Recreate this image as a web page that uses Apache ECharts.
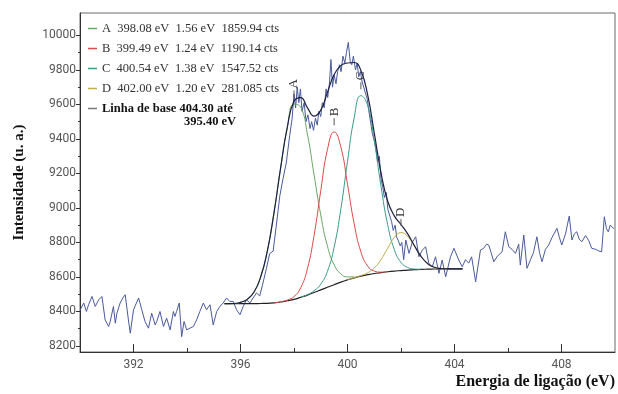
<!DOCTYPE html>
<html>
<head>
<meta charset="utf-8">
<script src="https://cdn.jsdelivr.net/npm/echarts@6/dist/echarts.min.js"></script>
<style>
  html, body { margin: 0; padding: 0; background: #ffffff; }
  #xps { width: 618px; height: 394px; }
</style>
</head>
<body>
<div id="xps"></div>
<script>
// espectro medido (eV, contagens)
const specEv = [390.01, 390.14, 390.24, 390.32, 390.45, 390.57, 390.70, 390.82, 390.94, 391.07, 391.13, 391.25, 391.32, 391.38, 391.50, 391.60, 391.69, 391.81, 391.88, 392.00,
  392.06, 392.19, 392.31, 392.43, 392.56, 392.68, 392.81, 392.87, 392.99, 393.12, 393.24, 393.37, 393.49, 393.55, 393.61, 393.71, 393.80, 393.89, 393.99, 394.11,
  394.24, 394.36, 394.48, 394.61, 394.73, 394.86, 394.98, 395.11, 395.23, 395.35, 395.48, 395.60, 395.73, 395.85, 395.98, 396.10, 396.22, 396.35, 396.47, 396.60,
  396.72, 396.84, 396.97, 397.09, 397.22, 397.34, 397.47, 397.59, 397.71, 397.84, 397.93, 398.00, 398.06, 398.12, 398.18, 398.24, 398.30, 398.38, 398.45, 398.52,
  398.60, 398.66, 398.73, 398.80, 398.87, 398.93, 399.00, 399.06, 399.13, 399.20, 399.26, 399.33, 399.38, 399.44, 399.50, 399.57, 399.63, 399.70, 399.76, 399.83,
  399.90, 399.96, 400.03, 400.10, 400.16, 400.22, 400.30, 400.36, 400.42, 400.48, 400.55, 400.62, 400.68, 400.74, 400.80, 400.87, 400.93, 401.00, 401.06, 401.12,
  401.19, 401.25, 401.32, 401.38, 401.45, 401.51, 401.58, 401.65, 401.71, 401.78, 401.84, 401.90, 401.97, 402.03, 402.10, 402.18, 402.30, 402.42, 402.55, 402.67,
  402.80, 402.92, 403.04, 403.17, 403.29, 403.42, 403.54, 403.67, 403.85, 403.98, 404.16, 404.29, 404.41, 404.53, 404.64, 404.79, 404.97, 405.09, 405.20, 405.28,
  405.37, 405.47, 405.60, 405.78, 405.90, 406.03, 406.15, 406.28, 406.40, 406.46, 406.59, 406.71, 406.84, 406.95, 407.08, 407.18, 407.27, 407.40, 407.52, 407.65,
  407.83, 407.92, 408.01, 408.15, 408.29, 408.39, 408.48, 408.57, 408.66, 408.76, 408.90, 409.02, 409.13, 409.28, 409.40, 409.50, 409.60, 409.68, 409.75, 409.82,
  409.88, 409.96];
const specCts = [8410, 8449, 8400, 8439, 8487, 8429, 8468, 8487, 8351, 8313, 8342, 8429, 8332, 8390, 8449, 8478, 8497, 8351, 8274, 8410,
  8400, 8478, 8410, 8342, 8303, 8390, 8322, 8342, 8400, 8313, 8361, 8293, 8400, 8371, 8400, 8449, 8254, 8342, 8293, 8303,
  8313, 8351, 8400, 8449, 8410, 8439, 8322, 8400, 8429, 8449, 8478, 8458, 8458, 8410, 8381, 8429, 8468, 8449, 8478, 8507,
  8490, 8565, 8650, 8735, 8750, 8900, 9070, 9170, 9260, 9420, 9520, 9660, 9580, 9700, 9610, 9690, 9560, 9610, 9500, 9540,
  9460, 9500, 9450, 9520, 9480, 9560, 9530, 9610, 9580, 9690, 9640, 9730, 9860, 9700, 9770, 9720, 9790, 9830, 9790, 9880,
  9840, 9900, 9960, 9850, 9830, 9880, 9800, 9840, 9760, 9790, 9730, 9720, 9660, 9630, 9560, 9490, 9430, 9390, 9350, 9270,
  9300, 9170, 9120, 9060, 9090, 8990, 8980, 8920, 8870, 8900, 8830, 8810, 8780, 8800, 8700, 8814, 8737, 8800, 8833, 8717,
  8756, 8775, 8679, 8659, 8717, 8621, 8698, 8601, 8717, 8766, 8698, 8659, 8700, 8680, 8717, 8572, 8756, 8766, 8790, 8785,
  8740, 8688, 8720, 8746, 8862, 8775, 8760, 8737, 8790, 8669, 8843, 8650, 8700, 8740, 8833, 8740, 8688, 8760, 8785, 8830,
  8882, 8830, 8785, 8850, 8953, 8814, 8850, 8862, 8820, 8804, 8840, 8810, 8766, 8760, 8750, 8746, 8949, 8880, 8862, 8900,
  8911, 8880];

// ajuste: linha de base, componentes A-D e envoltória (mesma grade em eV)
const fitEv = [395.4, 395.75, 396.0, 396.25, 396.5, 396.75, 397.0, 397.25, 397.5, 397.75, 398.0, 398.25, 398.5, 398.75, 399.0, 399.25, 399.5, 399.75,
  400.0, 400.25, 400.5, 400.75, 401.0, 401.25, 401.5, 401.75, 402.0, 402.25, 402.5, 402.75, 403.0, 403.25, 403.5, 403.75, 404.0, 404.3];
const baseLine = [8445, 8445, 8445, 8445, 8445, 8446, 8447, 8450, 8455, 8462, 8470, 8482, 8495, 8510, 8525, 8540, 8555, 8570,
  8583, 8595, 8605, 8613, 8620, 8625, 8630, 8634, 8637, 8640, 8642, 8644, 8645, 8646, 8646, 8647, 8647, 8647];
const peakA = [8445, 8446, 8453, 8470, 8511, 8598, 8748, 8970, 9231, 9465, 9602, 9585, 9428, 9192, 8959, 8779, 8670, 8618,
  8600, 8601, null, null, null, null, null, null, null, null, null, null, null, null, null, null, null, null];
const peakB = [null, null, null, null, null, null, null, 8450, 8456, 8466, 8486, 8537, 8647, 8840, 9100, 9338, 9441, 9354,
  9137, 8908, 8746, 8664, 8634, 8628, 8630, null, null, null, null, null, null, null, null, null, null, null];
const peakC = [null, null, null, null, null, null, null, null, null, null, null, 8482, 8497, 8520, 8558, 8633, 8772, 8993,
  9269, 9523, 9651, 9596, 9390, 9128, 8904, 8759, 8684, 8655, 8646, 8644, null, null, null, null, null, null];
const peakD = [null, null, null, null, null, null, null, null, null, null, null, null, null, null, null, null, null, null,
  8583, 8596, 8608, 8624, 8652, 8700, 8766, 8829, 8857, 8835, 8778, 8719, 8677, 8656, 8649, 8647, null, null];
const envelope = [8445, 8446, 8453, 8470, 8511, 8598, 8748, 8970, 9232, 9469, 9618, 9640, 9582, 9532, 9567, 9670, 9773, 9825,
  9840, 9843, 9797, 9658, 9436, 9206, 9040, 8954, 8904, 8850, 8782, 8719, 8677, 8656, 8649, 8647, 8647, 8647];

const peakNames = ['A', 'B', 'C', 'D'];
const peakColors = ['#6aa865', '#dc4a48', '#3a9c86', '#c2ad4e'];
const legendText = {
  A: 'A  398.08 eV  1.56 eV  1859.94 cts',
  B: 'B  399.49 eV  1.24 eV  1190.14 cts',
  C: 'C  400.54 eV  1.38 eV  1547.52 cts',
  D: 'D  402.00 eV  1.20 eV  281.085 cts',
  'Linha de base': '{b|Linha de base 404.30 até}'
};

const xMajorTicks = [392, 396, 400, 404, 408];
const xMinorTicks = [394, 398, 402, 406];
const yMajorTicks = [8200, 8400, 8600, 8800, 9000, 9200, 9400, 9600, 9800, 10000];
const yMinorTicks = [8300, 8500, 8700, 8900, 9100, 9300, 9500, 9700, 9900];

function pairs (xs, ys) {
  return xs.map(function (x, i) { return [x, ys[i] == null ? '-' : ys[i]] })
}

const serif = 'Liberation Serif, Times New Roman, serif';
const narrow = 'Liberation Sans Narrow, Arial Narrow, Roboto, sans-serif';

let chart = echarts.init(document.getElementById('xps'), null, { renderer: 'canvas' });

let peakSeries = peakNames.map(function (name, k) {
  return {
    name: name,
    type: 'line',
    data: pairs(fitEv, [peakA, peakB, peakC, peakD][k]),
    smooth: true,
    symbol: 'none',
    itemStyle: { color: peakColors[k] },
    lineStyle: { color: peakColors[k], width: 1 },
    markPoint: {
      symbol: 'rect',
      symbolSize: [1, 7],
      symbolOffset: [0, -10],
      itemStyle: { color: '#555' },
      label: {
        show: true,
        formatter: name,
        position: 'top',
        rotate: 90,
        align: 'left',
        verticalAlign: 'middle',
        distance: 2,
        color: '#333',
        fontFamily: serif,
        fontSize: 13
      },
      data: [{ type: 'max' }]
    }
  }
});

chart.setOption({
  animation: false,
  backgroundColor: '#ffffff',
  grid: { left: 80, right: 1, top: 13, bottom: 42, show: true, borderColor: '#6a6a6a', borderWidth: 1 },
  legend: {
    orient: 'vertical',
    left: 83,
    top: 17,
    itemGap: 7,
    itemWidth: 9,
    itemHeight: 1.5,
    icon: 'rect',
    selectedMode: false,
    data: ['A', 'B', 'C', 'D', 'Linha de base'],
    formatter: function (name) { return legendText[name] },
    textStyle: {
      fontFamily: serif,
      fontSize: 12.5,
      color: '#333',
      rich: {
        b: { fontFamily: serif, fontWeight: 'bold', fontSize: 12.5, color: '#111' }
      }
    }
  },
  graphic: [{
    type: 'text',
    left: 184,
    top: 115,
    style: { text: '395.40 eV', font: 'bold 12.5px ' + serif, fill: '#111' }
  }],
  xAxis: [
    {
      type: 'value',
      min: 390,
      max: 410,
      position: 'bottom',
      name: 'Energia de ligação (eV)',
      nameLocation: 'end',
      nameGap: 0,
      nameTextStyle: {
        fontFamily: serif, fontWeight: 'bold', fontSize: 16, color: '#111',
        align: 'right', verticalAlign: 'top', padding: [22, 0, 0, 0]
      },
      axisLine: { lineStyle: { color: '#333', width: 1 } },
      axisTick: { customValues: xMajorTicks, inside: true, length: 8, lineStyle: { color: '#333' } },
      axisLabel: { customValues: xMajorTicks, margin: 7, color: '#555', fontFamily: narrow, fontSize: 12 },
      splitLine: { show: false }
    },
    {
      type: 'value',
      min: 390,
      max: 410,
      position: 'bottom',
      axisLine: { show: false },
      axisTick: { customValues: xMinorTicks, inside: true, length: 4, lineStyle: { color: '#333' } },
      axisLabel: { show: false },
      splitLine: { show: false }
    }
  ],
  yAxis: [
    {
      type: 'value',
      min: 8165,
      max: 10130,
      position: 'left',
      name: 'Intensidade (u. a.)',
      nameLocation: 'middle',
      nameGap: 53,
      nameTextStyle: { fontFamily: serif, fontWeight: 'bold', fontSize: 15, color: '#111' },
      axisLine: { lineStyle: { color: '#333', width: 1 } },
      axisTick: { customValues: yMajorTicks, inside: false, length: 4, lineStyle: { color: '#333' } },
      axisLabel: {
        customValues: yMajorTicks, margin: 4, color: '#555', fontFamily: narrow, fontSize: 12,
        formatter: function (v) { return String(v) }
      },
      splitLine: { show: false }
    },
    {
      type: 'value',
      min: 8165,
      max: 10130,
      position: 'left',
      axisLine: { show: false },
      axisTick: { customValues: yMinorTicks, inside: false, length: 2, lineStyle: { color: '#333' } },
      axisLabel: { show: false },
      splitLine: { show: false }
    }
  ],
  series: [
    {
      name: 'Espectro',
      type: 'line',
      data: pairs(specEv, specCts),
      symbol: 'none',
      itemStyle: { color: '#4a5a9c' },
      lineStyle: { color: '#4a5a9c', width: 1 }
    },
    {
      name: 'Linha de base',
      type: 'line',
      data: pairs(fitEv, baseLine),
      smooth: true,
      symbol: 'none',
      itemStyle: { color: '#7a7a7a' },
      lineStyle: { color: '#222222', width: 1.2 }
    }
  ].concat(peakSeries).concat([
    {
      name: 'Envoltória',
      type: 'line',
      data: pairs(fitEv, envelope),
      smooth: true,
      symbol: 'none',
      itemStyle: { color: '#1c2040' },
      lineStyle: { color: '#1c2040', width: 1.2 }
    }
  ])
});
</script>
</body>
</html>
